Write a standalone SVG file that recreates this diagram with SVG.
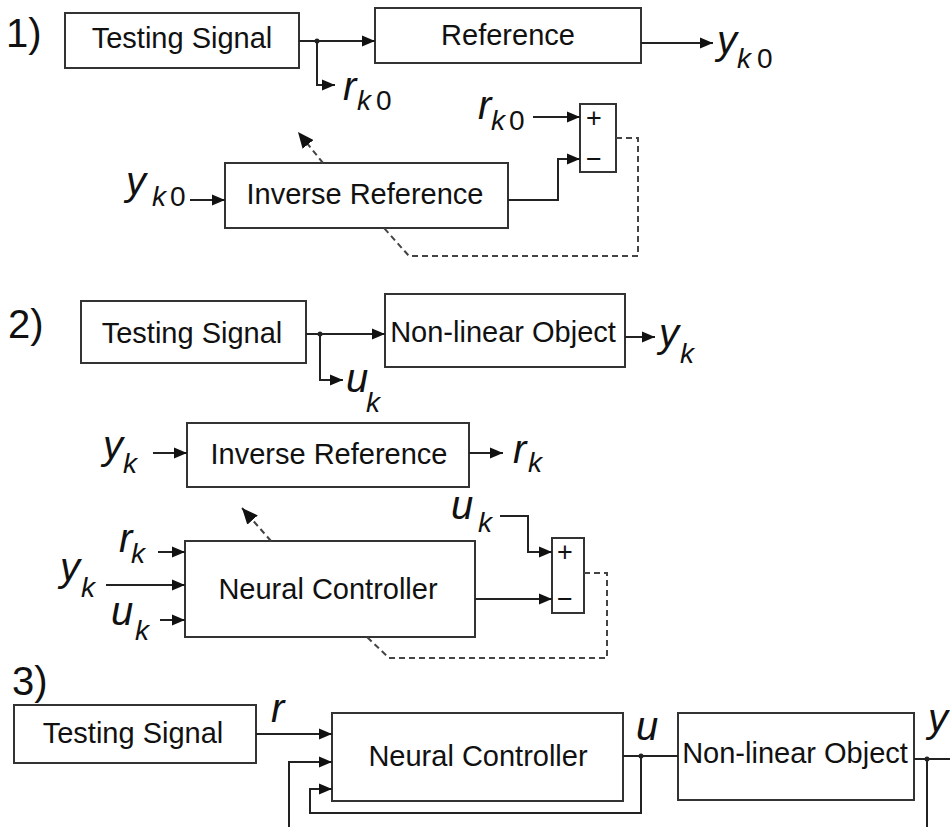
<svg xmlns="http://www.w3.org/2000/svg" width="950" height="827" viewBox="0 0 950 827">
<style>
.box{fill:#fff;stroke:#333;stroke-width:2}
.ln{fill:none;stroke:#222;stroke-width:2}
.ar{marker-end:url(#ah)}
.ds{fill:none;stroke:#444;stroke-width:2;stroke-dasharray:6 4}
.ard{marker-end:url(#ahd)}
.dot{fill:#222}
.t{font-family:"Liberation Sans",Arial,sans-serif;font-size:29px;fill:#111;text-anchor:middle}
.m{font-family:"Liberation Sans",Arial,sans-serif;font-style:italic;font-size:40px;fill:#111}
.s{font-family:"Liberation Sans",Arial,sans-serif;font-style:italic;font-size:28px;fill:#111}
.n{font-family:"Liberation Sans",Arial,sans-serif;font-size:28px;fill:#111}
.lbl{font-family:"Liberation Sans",Arial,sans-serif;font-size:40px;fill:#111}
.pm{font-family:"Liberation Sans",Arial,sans-serif;font-size:27px;fill:#111;text-anchor:middle}
</style>
<defs>
<marker id="ah" markerUnits="userSpaceOnUse" markerWidth="14" markerHeight="12" refX="13" refY="6" orient="auto"><path d="M0,0.5 L13,6 L0,11.5 z" fill="#111"/></marker>
<marker id="ahd" markerUnits="userSpaceOnUse" markerWidth="17" markerHeight="14" refX="16" refY="7" orient="auto"><path d="M0,0 L16,7 L0,14 z" fill="#111"/></marker>
</defs>

<!-- Section labels -->
<text class="lbl" x="6" y="47">1)</text>
<text class="lbl" x="8" y="338">2)</text>
<text class="lbl" x="12" y="695">3)</text>

<!-- Section 1 nodes -->
<g id="s1-testing-signal"><rect class="box" x="65" y="13" width="234" height="55"/><text class="t" x="182" y="48">Testing Signal</text></g>
<g id="s1-reference"><rect class="box" x="375" y="8" width="266" height="55"/><text class="t" x="508" y="45">Reference</text></g>
<g id="s1-inverse-reference"><rect class="box" x="225" y="163" width="283" height="65"/><text class="t" x="365" y="204">Inverse Reference</text></g>
<g id="s1-sum"><rect class="box" x="580" y="104" width="36" height="68"/><text class="pm" x="594" y="127">+</text><text class="pm" x="594" y="168">−</text></g>

<!-- Section 2 nodes -->
<g id="s2-testing-signal"><rect class="box" x="81" y="301" width="225" height="62"/><text class="t" x="192" y="343">Testing Signal</text></g>
<g id="s2-nonlinear-object"><rect class="box" x="385" y="294" width="240" height="73"/><text class="t" x="503" y="342">Non-linear Object</text></g>
<g id="s2-inverse-reference"><rect class="box" x="187" y="423" width="282" height="64"/><text class="t" x="329" y="464">Inverse Reference</text></g>
<g id="s2-neural-controller"><rect class="box" x="185" y="541" width="290" height="96"/><text class="t" x="328" y="599">Neural Controller</text></g>
<g id="s2-sum"><rect class="box" x="552" y="538" width="32" height="75"/><text class="pm" x="565" y="561">+</text><text class="pm" x="565" y="608">−</text></g>

<!-- Section 3 nodes -->
<g id="s3-testing-signal"><rect class="box" x="14" y="705" width="242" height="58"/><text class="t" x="133" y="743">Testing Signal</text></g>
<g id="s3-neural-controller"><rect class="box" x="332" y="713" width="291" height="88"/><text class="t" x="478" y="766">Neural Controller</text></g>
<g id="s3-nonlinear-object"><rect class="box" x="678" y="713" width="236" height="87"/><text class="t" x="795" y="763">Non-linear Object</text></g>

<!-- Connectors -->
<g id="connectors">
  <!-- section 1 -->
  <path class="ln ar" d="M299,41 H375"/>
  <path class="ln ar" d="M317,41 V85 H335"/>
  <path class="ln ar" d="M641,43 H713"/>
  <path class="ln ar" d="M190,200 H225"/>
  <path class="ln ar" d="M533,117 H580"/>
  <path class="ln ar" d="M508,200 H558 V159 H580"/>
  <path class="ds ard" d="M323,163 L298,132"/>
  <path class="ds" d="M616,138 H638 V256 H409 L384,228"/>
  <circle class="dot" cx="317" cy="41" r="2.5"/>
  <!-- section 2 -->
  <path class="ln ar" d="M306,334 H385"/>
  <path class="ln ar" d="M320,334 V380 H343"/>
  <path class="ln ar" d="M625,337 H655"/>
  <path class="ln ar" d="M153,453 H187"/>
  <path class="ln ar" d="M469,453 H503"/>
  <path class="ln ar" d="M158,552 H185"/>
  <path class="ln ar" d="M106,585 H185"/>
  <path class="ln ar" d="M160,620 H185"/>
  <path class="ln ar" d="M500,516 H528 V552 H552"/>
  <path class="ln ar" d="M475,599 H552"/>
  <path class="ds ard" d="M271,541 L242,508"/>
  <path class="ds" d="M584,573 H607 V658 H389 L367,637"/>
  <circle class="dot" cx="320" cy="334" r="2.5"/>
  <!-- section 3 -->
  <path class="ln ar" d="M256,734 H332"/>
  <path class="ln" d="M623,756 H678"/>
  <path class="ln ar" d="M641,756 V813 H310 V789 H332"/>
  <path class="ln" d="M914,759 H950"/>
  <path class="ln ar" d="M927,759 V832 H289 V762 H332"/>
  <circle class="dot" cx="641" cy="756" r="2.5"/>
  <circle class="dot" cx="927" cy="759" r="2.5"/>
</g>

<!-- Signal labels -->
<g id="labels">
  <text class="m" x="717" y="54">y</text><text class="s" x="737" y="68">k</text><text class="n" x="757" y="68">0</text>
  <text class="m" x="343" y="100">r</text><text class="s" x="357" y="110">k</text><text class="n" x="376" y="110">0</text>
  <text class="m" x="478" y="119">r</text><text class="s" x="491" y="130">k</text><text class="n" x="509" y="130">0</text>
  <text class="m" x="126" y="195">y</text><text class="s" x="152" y="206">k</text><text class="n" x="170" y="206">0</text>

  <text class="m" x="346" y="392">u</text><text class="s" x="366" y="412">k</text>
  <text class="m" x="659" y="347">y</text><text class="s" x="680" y="363">k</text>
  <text class="m" x="103" y="459">y</text><text class="s" x="123" y="473">k</text>
  <text class="m" x="513" y="463">r</text><text class="s" x="528" y="472">k</text>
  <text class="m" x="119" y="552">r</text><text class="s" x="131" y="563">k</text>
  <text class="m" x="60" y="581">y</text><text class="s" x="81" y="597">k</text>
  <text class="m" x="111" y="625">u</text><text class="s" x="135" y="640">k</text>
  <text class="m" x="451" y="519">u</text><text class="s" x="478" y="532">k</text>

  <text class="m" x="271" y="722">r</text>
  <text class="m" x="636" y="740">u</text>
  <text class="m" x="928" y="732">y</text>
</g>
</svg>
